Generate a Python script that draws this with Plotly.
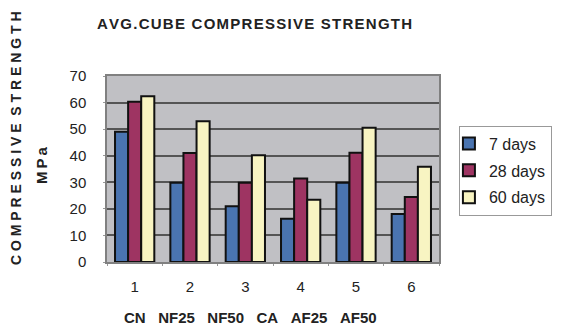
import plotly.graph_objects as go

categories = ["1", "2", "3", "4", "5", "6"]
mix_names = ["CN", "NF25", "NF50", "CA", "AF25", "AF50"]
series_names = ["7 days", "28 days", "60 days"]
days7 = [49.0, 29.8, 21.0, 16.3, 29.8, 18.1]
days28 = [60.3, 41.0, 29.8, 31.4, 41.1, 24.5]
days60 = [62.4, 53.0, 40.2, 23.4, 50.5, 35.8]
colors = ["#4A74B0", "#9E3462", "#F8F4C2"]
y_ticks = [0, 10, 20, 30, 40, 50, 60, 70]
title_text = "AVG.CUBE COMPRESSIVE STRENGTH"
y_title = "COMPRESSIVE STRENGTH"
y_unit = "MPa"

FONT = "Liberation Sans, Arial, sans-serif"
HS = "\u200a"  # hair space used as letter spacing
TS = "\u2009"  # thin space

def spaced(s, sep):
    return sep.join(s)

fig = go.Figure()
for name, vals, col in zip(series_names, [days7, days28, days60], colors):
    fig.add_trace(go.Bar(
        x=categories, y=vals, name=name, legendgroup=name,
        marker=dict(color=col, line=dict(color="#111111", width=2)),
    ))

fig.update_layout(
    width=555, height=319,
    margin=dict(l=99, r=124, t=68, b=65, autoexpand=False),
    paper_bgcolor="white",
    plot_bgcolor="#C0C0C4",
    barmode="group",
    bargap=0.29,
    bargroupgap=0,
    font=dict(family=FONT, color="#222222"),
    showlegend=True,
    legend=dict(
        x=1.06, y=0.733, xanchor="left", yanchor="top",
        bgcolor="white", bordercolor="#999999", borderwidth=1,
        font=dict(size=16, color="#222222"),
        itemwidth=30, tracegroupgap=3, indentation=-11,
    ),
)
fig.update_xaxes(
    type="category",
    showline=True, linecolor="#808080", linewidth=1.5, mirror=True,
    ticks="outside", tickson="boundaries", ticklen=2, tickcolor="#999999",
    tickfont=dict(size=15, color="#222222"),
    ticklabelstandoff=10,
    showgrid=False,
)
fig.update_yaxes(
    range=[0, 70], tickvals=y_ticks,
    showline=True, linecolor="#808080", linewidth=1.5, mirror=True,
    ticks="outside", ticklen=2, tickcolor="#999999",
    tickfont=dict(size=15, color="#222222"),
    ticklabelstandoff=14,
    gridcolor="#555555", gridwidth=1.5,
    zeroline=False,
)

fig.add_annotation(
    text="<b>" + spaced(title_text, HS) + "</b>",
    xref="paper", yref="paper", x=-0.036, y=1.0, yshift=53,
    xanchor="left", yanchor="middle", showarrow=False,
    font=dict(size=15, color="#222222", family=FONT),
)
words = y_title.split(" ")
fig.add_annotation(
    text="<b>" + "&nbsp;&nbsp;".join(spaced(w, "&nbsp;") for w in words) + "</b>",
    xref="paper", yref="paper", x=0, xshift=-91, y=0.5, yshift=31,
    xanchor="center", yanchor="middle", showarrow=False, textangle=-90,
    font=dict(size=14, color="#222222", family=FONT),
)
fig.add_annotation(
    text="<b>" + spaced(y_unit, TS) + "</b>",
    xref="paper", yref="paper", x=0, xshift=-66, y=0.5, yshift=4,
    xanchor="center", yanchor="middle", showarrow=False, textangle=-90,
    font=dict(size=15, color="#222222", family=FONT),
)
fig.add_annotation(
    text="<b>" + "&nbsp;&nbsp;&nbsp;".join(mix_names) + "</b>",
    xref="paper", yref="paper", x=0.0, xshift=15, y=0, yshift=-55,
    xanchor="left", yanchor="middle", showarrow=False,
    font=dict(size=15, color="#222222", family=FONT),
)

fig.write_html("out.html")
